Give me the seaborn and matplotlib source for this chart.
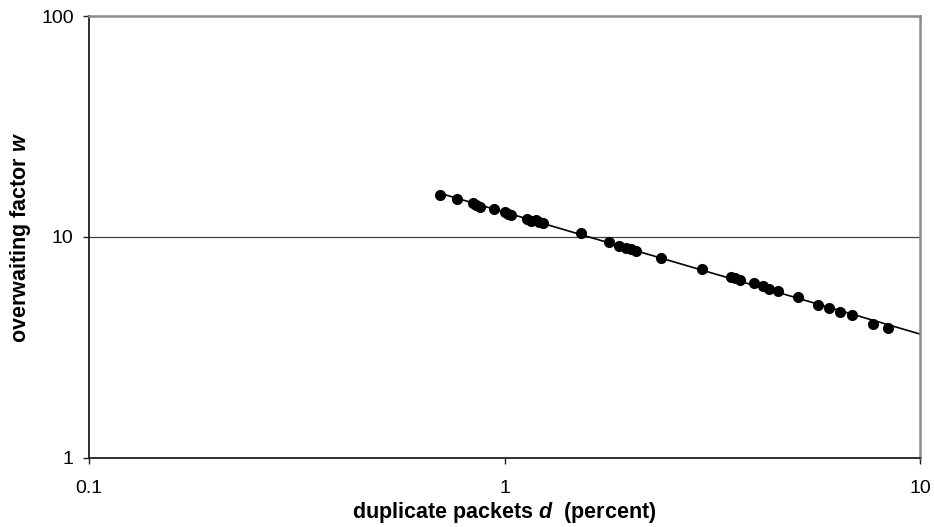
import numpy as np
import pandas as pd
import matplotlib
matplotlib.use("Agg")
import matplotlib.pyplot as plt
from matplotlib.ticker import FixedLocator, FixedFormatter, NullLocator
import seaborn as sns

# duplicate packets d (percent) and the resulting overwaiting factor w
duplicate_pct = [0.701, 0.770, 0.838, 0.856, 0.871, 0.946, 1.000, 1.017, 1.039,
                 1.130, 1.161, 1.194, 1.214, 1.241, 1.532, 1.789, 1.891, 1.966,
                 2.021, 2.067, 2.374, 2.996, 3.499, 3.597, 3.678, 3.975, 4.178,
                 4.343, 4.565, 5.073, 5.697, 6.023, 6.436, 6.878, 7.687, 8.354]
overwait = [15.49, 14.86, 14.25, 13.96, 13.67, 13.39, 12.97, 12.71, 12.57,
            12.06, 11.81, 11.94, 11.69, 11.57, 10.42, 9.49, 9.11, 8.92,
            8.83, 8.64, 8.04, 7.16, 6.59, 6.52, 6.39, 6.19, 6.00,
            5.82, 5.70, 5.35, 4.92, 4.77, 4.58, 4.44, 4.04, 3.88]

x_ticks = [0.1, 1, 10]
x_tick_labels = ["0.1", "1", "10"]
y_ticks = [1, 10, 100]
y_tick_labels = ["1", "10", "100"]

df = pd.DataFrame({"d": duplicate_pct, "w": overwait})

# power-law trend line w = a * d^b, fitted in log space and extended to d = 10
b, log_a = np.polyfit(np.log10(df["d"]), np.log10(df["w"]), 1)
trend_x = np.logspace(np.log10(df["d"].min()), 1, 200)
trend = pd.DataFrame({"d": trend_x, "w": 10 ** log_a * trend_x ** b})

sns.set_theme(style="white")
plt.rcParams["font.family"] = ["Liberation Sans", "DejaVu Sans"]
plt.rcParams["text.color"] = "black"
plt.rcParams["axes.labelcolor"] = "black"
plt.rcParams["mathtext.fontset"] = "custom"
plt.rcParams["mathtext.bfit"] = "Liberation Sans:italic:bold"
plt.rcParams["mathtext.it"] = "Liberation Sans:italic"
plt.rcParams["mathtext.bf"] = "Liberation Sans:bold"
plt.rcParams["mathtext.rm"] = "Liberation Sans"

fig = plt.figure(figsize=(9.34, 5.27), dpi=100)
ax = fig.add_axes([0.0953, 0.131, 0.8897, 0.8386])

ax.set_xscale("log")
ax.set_yscale("log")
ax.set_xlim(0.1, 10)
ax.set_ylim(1, 100)

ax.axhline(10, color="#404040", lw=0.9, zorder=1)

sns.lineplot(data=trend, x="d", y="w", ax=ax, color="black", lw=1.2, zorder=2)
sns.scatterplot(data=df, x="d", y="w", ax=ax, color="black", s=64,
                edgecolor="black", linewidth=0, zorder=3)

ax.xaxis.set_major_locator(FixedLocator(x_ticks))
ax.xaxis.set_major_formatter(FixedFormatter(x_tick_labels))
ax.yaxis.set_major_locator(FixedLocator(y_ticks))
ax.yaxis.set_major_formatter(FixedFormatter(y_tick_labels))
ax.xaxis.set_minor_locator(NullLocator())
ax.yaxis.set_minor_locator(NullLocator())

ax.tick_params(axis="x", which="major", direction="out", length=4, width=1,
               color="#202020", pad=12, labelsize=14, labelcolor="black", bottom=True)
ax.tick_params(axis="y", which="major", direction="out", length=4, width=1,
               color="#202020", pad=7, labelsize=14, labelcolor="black", left=True)

for side in ("left", "bottom"):
    ax.spines[side].set_color("#202020")
    ax.spines[side].set_linewidth(1.3)
for side in ("top", "right"):
    ax.spines[side].set_color("#8c8c8c")
    ax.spines[side].set_linewidth(1.8)

ax.set_xlabel(r"duplicate packets $\mathbfit{d}$  (percent)", fontsize=15.5,
              fontweight="bold", color="black")
ax.set_ylabel(r"overwaiting factor $\mathbfit{w}$", fontsize=15.5,
              fontweight="bold", color="black")
ax.xaxis.set_label_coords(0.5, -0.096)
ax.yaxis.set_label_coords(-0.068, 0.5)

fig.savefig("out.png", dpi=100, facecolor="white")
